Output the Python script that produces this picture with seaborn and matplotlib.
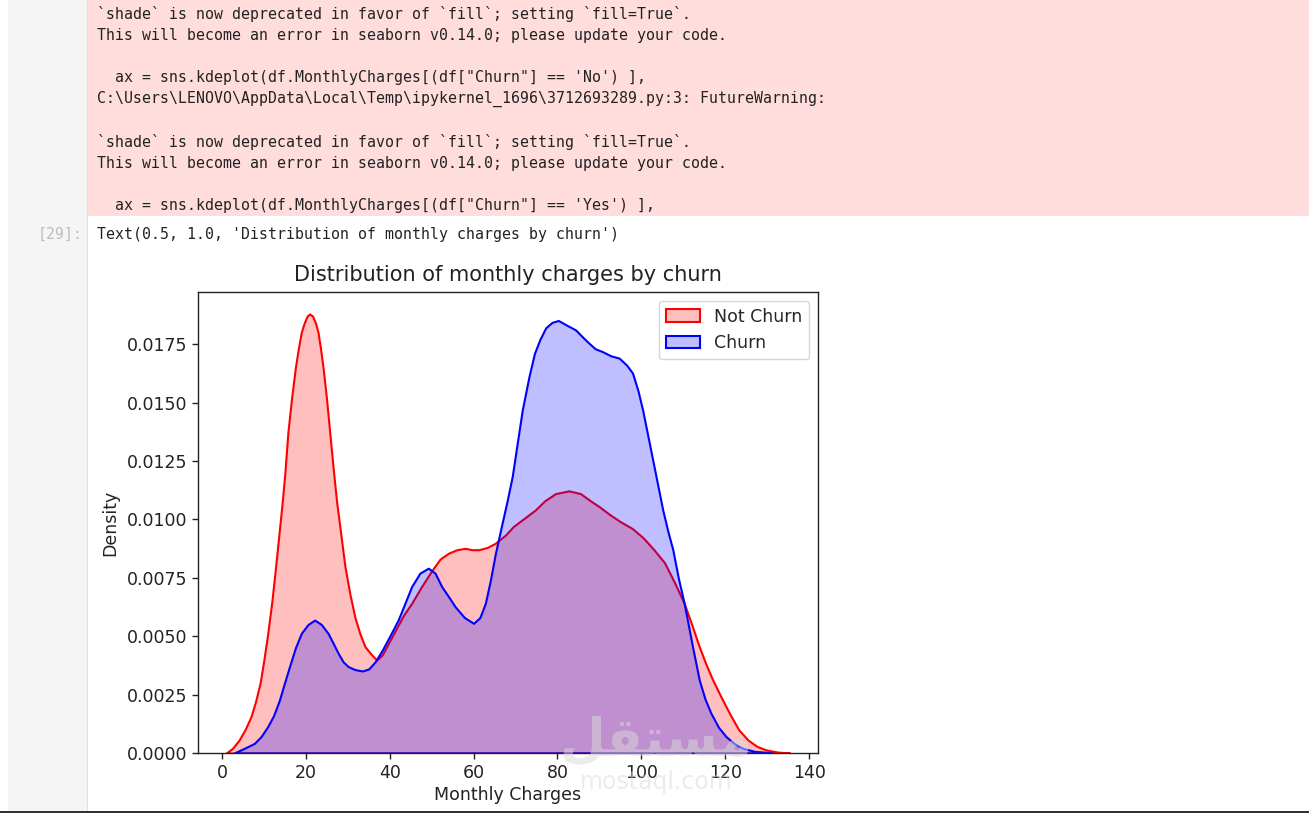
import matplotlib
matplotlib.use("Agg", force=True)
import matplotlib.pyplot as plt
from matplotlib.patches import Patch, Rectangle
from matplotlib.ticker import FormatStrFormatter
from matplotlib.colors import to_rgba
import numpy as np
import pandas as pd
import seaborn as sns

# density curves (Monthly Charges -> density)
not_churn_x = [1.0, 2.5, 4.1, 5.5, 6.9, 8.0, 9.1, 10.0, 10.9, 11.9, 12.8, 13.6, 14.4, 15.0, 15.7,
               16.6, 17.5, 18.2, 18.9, 19.6, 20.3, 20.9, 21.6, 22.3, 22.9, 23.5, 24.1, 24.9, 25.7,
               26.5, 27.3, 28.3, 29.3, 30.5, 31.7, 32.9, 34.1, 35.7, 36.9, 38.2, 39.7, 41.5, 43.3,
               45.2, 47.5, 50.0, 52.0, 54.0, 56.0, 58.0, 59.6, 61.2, 63.3, 65.2, 67.6, 69.5, 71.6,
               74.7, 77.0, 79.5, 82.7, 85.5, 87.8, 89.9, 92.5, 95.0, 97.9, 100.5, 103.0, 105.5,
               107.9, 110.2, 112.0, 113.8, 115.4, 117.0, 119.0, 121.0, 123.2, 125.4, 127.6, 129.8,
               132.5, 135.4]
not_churn_y = [0.0, 0.0002, 0.00056, 0.0010, 0.00155, 0.0022, 0.0030, 0.0040, 0.0051, 0.0065,
               0.0080, 0.0094, 0.0108, 0.0120, 0.0137, 0.0152, 0.0165, 0.0173, 0.0180, 0.0184,
               0.0187, 0.01879, 0.0187, 0.0184, 0.0180, 0.0173, 0.0165, 0.0152, 0.0137, 0.0122,
               0.0108, 0.0094, 0.0080, 0.0068, 0.0058, 0.0051, 0.00455, 0.0042, 0.00398, 0.0042,
               0.0047, 0.0053, 0.0059, 0.0064, 0.0071, 0.0078, 0.0083, 0.00855, 0.0087, 0.00876,
               0.0087, 0.0087, 0.0088, 0.00898, 0.00933, 0.0097, 0.00998, 0.0104, 0.0108, 0.0111,
               0.01122, 0.0111, 0.0108, 0.01055, 0.0102, 0.0099, 0.0096, 0.0092, 0.0087, 0.00815,
               0.0073, 0.00641, 0.0055, 0.00455, 0.0038, 0.00313, 0.0024, 0.0017, 0.0010, 0.00056,
               0.00028, 0.00013, 0.00004, 0.0]

churn_x = [2.9, 5.3, 7.7, 9.3, 10.9, 12.3, 13.7, 14.9, 16.1, 17.5, 18.9, 20.5, 22.1, 23.7, 25.3,
           26.5, 27.7, 28.9, 30.1, 31.7, 33.5, 35.0, 36.5, 38.2, 40.0, 42.0, 43.6, 45.2, 47.2,
           49.2, 50.8, 52.4, 54.0, 55.6, 57.8, 60.0, 61.5, 62.8, 64.0, 65.2, 66.5, 68.0, 69.2,
           70.4, 71.6, 73.2, 74.5, 75.8, 77.2, 78.7, 80.2, 82.3, 84.3, 86.0, 87.5, 89.0, 90.7,
           92.7, 94.7, 96.5, 97.9, 99.2, 100.3, 101.9, 103.5, 105.1, 106.3, 107.5, 108.8, 110.2,
           112.2, 113.8, 115.2, 116.6, 118.4, 120.2, 122.2, 124.2, 127.0, 129.8, 131.0]
churn_y = [0.0, 0.0002, 0.00041, 0.0007, 0.00113, 0.0016, 0.00227, 0.0030, 0.0037, 0.0045,
           0.00512, 0.0055, 0.00569, 0.0055, 0.00512, 0.0047, 0.00427, 0.0039, 0.0037, 0.00357,
           0.00351, 0.0036, 0.0039, 0.0044, 0.0050, 0.00569, 0.0064, 0.00712, 0.0077, 0.00791,
           0.0077, 0.00712, 0.0067, 0.00626, 0.0058, 0.00555, 0.0058, 0.00641, 0.0074, 0.00855,
           0.0096, 0.0108, 0.01183, 0.01326, 0.01468, 0.01611, 0.0171, 0.0177, 0.0182, 0.01843,
           0.01851, 0.0183, 0.01811, 0.0178, 0.01754, 0.0173, 0.01718, 0.0170, 0.0169, 0.0166,
           0.01626, 0.0155, 0.01468, 0.01326, 0.01183, 0.0104, 0.0095, 0.0087, 0.0075, 0.00641,
           0.00455, 0.00313, 0.0023, 0.0017, 0.0011, 0.0007, 0.0004, 0.0002, 0.00007, 0.00003,
           0.0]

series_labels = ["Not Churn", "Churn"]
series_colors = ["red", "blue"]

warning_lines = [
    "`shade` is now deprecated in favor of `fill`; setting `fill=True`.",
    "This will become an error in seaborn v0.14.0; please update your code.",
    "",
    "  ax = sns.kdeplot(df.MonthlyCharges[(df[\"Churn\"] == 'No') ],",
    "C:\\Users\\LENOVO\\AppData\\Local\\Temp\\ipykernel_1696\\3712693289.py:3: FutureWarning:",
    "",
    "`shade` is now deprecated in favor of `fill`; setting `fill=True`.",
    "This will become an error in seaborn v0.14.0; please update your code.",
    "",
    "  ax = sns.kdeplot(df.MonthlyCharges[(df[\"Churn\"] == 'Yes') ],",
]
output_line = "Text(0.5, 1.0, 'Distribution of monthly charges by churn')"
prompt = "[29]:"

W, H = 1309, 813


def fx(px):
    return px / W


def fy(py):
    return 1 - py / H


def main():
    sns.set_style("ticks")
    plt.rcParams["font.family"] = ["DejaVu Sans"]

    df = pd.concat([
        pd.DataFrame({"MonthlyCharges": not_churn_x, "Density": not_churn_y, "Churn": series_labels[0]}),
        pd.DataFrame({"MonthlyCharges": churn_x, "Density": churn_y, "Churn": series_labels[1]}),
    ])

    fig = plt.figure(figsize=(W / 100, H / 100), dpi=100, facecolor="white")

    # notebook chrome
    fig.patches.append(Rectangle((fx(8), fy(811)), fx(79), 811 / H, transform=fig.transFigure,
                                 facecolor="#f5f5f5", edgecolor="none", zorder=0))
    fig.patches.append(Rectangle((fx(86.5), fy(811)), fx(1.2), 811 / H, transform=fig.transFigure,
                                 facecolor="#e0e0e0", edgecolor="none", zorder=0))
    fig.patches.append(Rectangle((fx(88), fy(216)), 1 - fx(88), 216 / H, transform=fig.transFigure,
                                 facecolor="#ffdddd", edgecolor="none", zorder=0))
    fig.patches.append(Rectangle((0, 0), 1, 2 / H, transform=fig.transFigure,
                                 facecolor="#333333", edgecolor="none", zorder=0))

    mono = dict(family="DejaVu Sans Mono", size=10.7, va="center", color="#222222")
    for i, line in enumerate(warning_lines):
        if line:
            fig.text(fx(97), fy(14 + i * 21.3), line, ha="left", **mono)
    fig.text(fx(97), fy(234), output_line, ha="left", **mono)
    fig.text(fx(83), fy(234), prompt, ha="right", **{**mono, "color": "#bdbdbd"})

    ax = fig.add_axes([fx(198), fy(753), fx(620), 461 / H])
    for label, color in zip(series_labels, series_colors):
        sub = df[df["Churn"] == label]
        ax.fill_between(sub["MonthlyCharges"], sub["Density"], facecolor=to_rgba(color, 0.25),
                        edgecolor=color, linewidth=1.5)
    ax.set_ylim(bottom=0)

    ax.set_xticks(np.arange(0, 141, 20))
    ax.set_yticks(np.arange(0, 0.0176, 0.0025))
    ax.yaxis.set_major_formatter(FormatStrFormatter("%.4f"))
    ax.tick_params(labelsize=12.5, length=4.4, width=1, colors="#222222")
    for spine in ax.spines.values():
        spine.set_linewidth(1)
        spine.set_color("#222222")
    ax.set_title("Distribution of monthly charges by churn", fontsize=15, pad=8, color="#222222")
    ax.set_xlabel("Monthly Charges", fontsize=12.5, labelpad=3, color="#222222")
    ax.set_ylabel("Density", fontsize=12.5, labelpad=5, color="#222222")

    handles = [Patch(facecolor=to_rgba(c, 0.25), edgecolor=c, linewidth=1.5) for c in series_colors]
    ax.legend(handles, series_labels, loc="upper right", fontsize=12.5, frameon=True, framealpha=0.8,
              edgecolor="#cccccc", fancybox=True)

    # watermark
    fig.text(fx(656), fy(740), "\ufede\ufed8\ufe98\ufeb4\ufee3", ha="center", va="center", size=38,
             weight="bold", color=(0.85, 0.85, 0.85, 0.5), zorder=10)
    fig.text(fx(656), fy(782), "mostaql.com", ha="center", va="center", size=17,
             color=(0.85, 0.85, 0.85, 0.5), zorder=10)

    fig.savefig("out.png", dpi=100, facecolor="white")
    plt.close(fig)


if __name__ == "__main__":
    main()
